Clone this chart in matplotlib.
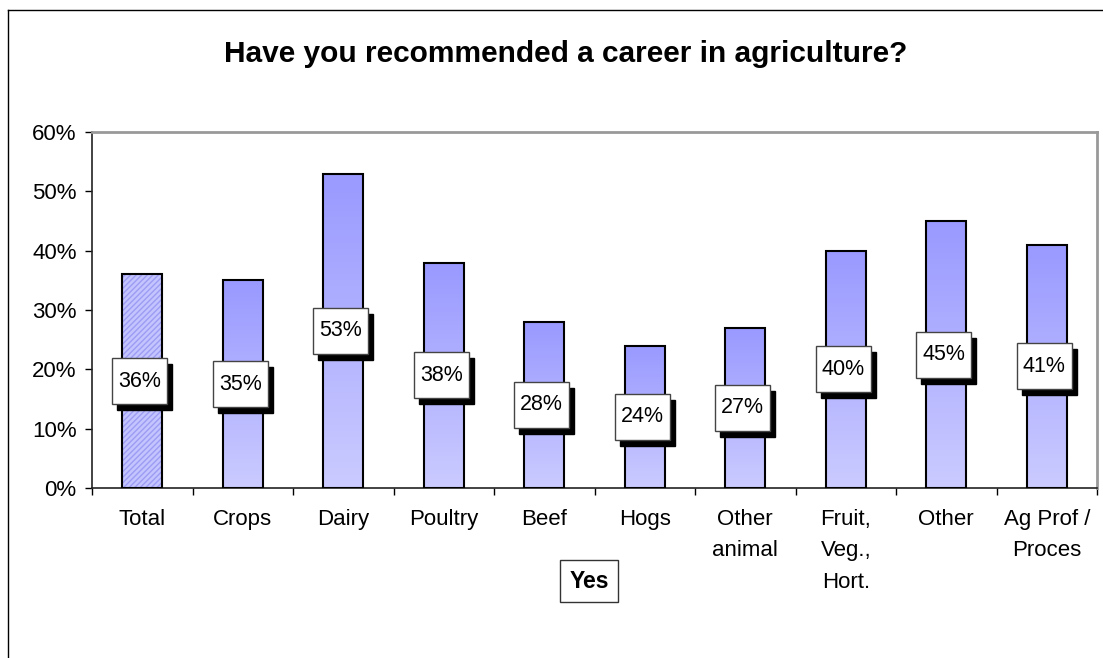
import numpy as np
import matplotlib
matplotlib.use("Agg")
import matplotlib.pyplot as plt
from matplotlib.patches import Rectangle
from matplotlib.colors import LinearSegmentedColormap
from matplotlib.lines import Line2D

plt.rcParams['font.family'] = ['Liberation Sans', 'DejaVu Sans']

# survey data
categories = ["Total", "Crops", "Dairy", "Poultry", "Beef", "Hogs",
              "Other\nanimal", "Fruit,\nVeg.,\nHort.", "Other", "Ag Prof /\nProces"]
yes_pct = [36, 35, 53, 38, 28, 24, 27, 40, 45, 41]
yticks = [0, 10, 20, 30, 40, 50, 60]
title = "Have you recommended a career in agriculture?"
series_name = "Yes"

W, H = 1103, 658
fig = plt.figure(figsize=(W / 100, H / 100), dpi=100)
ax = fig.add_axes([92 / W, 1 - 488 / H, (1097 - 92) / W, (488 - 132) / H])

x = np.arange(len(categories))
width = 0.4

# vertical gradient, light at bottom, dark at top
grad_cmap = LinearSegmentedColormap.from_list("bluegrad", ["#cbcbff", "#9999ff"])
grad = np.linspace(0, 1, 256).reshape(-1, 1)

for i, v in enumerate(yes_pct):
    if i == 0:
        ax.bar(x[i], v, width, color="#c4c4ff", edgecolor="#9c9cf4",
               hatch="//////", linewidth=0, zorder=2)
    else:
        ax.imshow(grad, extent=[x[i] - width / 2, x[i] + width / 2, 0, v],
                  origin="lower", aspect="auto", cmap=grad_cmap, zorder=2)
    ax.bar(x[i], v, width, fill=False, edgecolor="black", linewidth=1.5, zorder=3)

ax.set_xlim(-0.5, len(categories) - 0.5)
ax.set_ylim(0, 60)

# value labels: white box with black drop shadow at mid-height of each bar
fig.canvas.draw()
px_x = ax.transData.transform((1, 0))[0] - ax.transData.transform((0, 0))[0]
px_y = ax.transData.transform((0, 10))[1] - ax.transData.transform((0, 0))[1]
bw, bh = 55 / px_x, 46 / px_y * 10
sx, sy = 5 / px_x, 6 / px_y * 10
dx = -2.5 / px_x
for i, v in enumerate(yes_pct):
    cx, cy = x[i] + dx, v / 2
    ax.add_patch(Rectangle((cx - bw / 2 + sx, cy - bh / 2 - sy), bw, bh,
                           facecolor="black", edgecolor="black", zorder=4))
    ax.add_patch(Rectangle((cx - bw / 2, cy - bh / 2), bw, bh,
                           facecolor="white", edgecolor="#444444", linewidth=1, zorder=5))
    ax.text(cx, cy, f"{v}%", ha="center", va="center", fontsize=15.5, zorder=6)

ax.set_yticks(yticks)
ax.set_yticklabels([f"{t}%" for t in yticks], fontsize=16)
ax.set_xticks(x)
ax.set_xticklabels(categories, fontsize=16, linespacing=1.65, va="top")
ax.set_xticks(np.arange(len(categories) + 1) - 0.5, minor=True)
ax.tick_params(axis="x", which="major", length=0, pad=15)
ax.tick_params(axis="x", which="minor", length=5, width=1, direction="out")
ax.tick_params(axis="y", length=5, width=1, direction="out", pad=6)

for s in ["left", "bottom"]:
    ax.spines[s].set_color("#222222")
    ax.spines[s].set_linewidth(1.2)
for s in ["top", "right"]:
    ax.spines[s].set_color("#999999")
    ax.spines[s].set_linewidth(2)

fig.text(566 / W, 1 - 62 / H, title, ha="center", va="baseline",
         fontsize=21.5, fontweight="bold")

# series name box
fig.text(589 / W, 1 - 581 / H, series_name, ha="center", va="center",
         fontsize=16.5, fontweight="bold",
         bbox=dict(boxstyle="square,pad=0.4", facecolor="white",
                   edgecolor="#333333", linewidth=1))

# outer chart border
fig.add_artist(Line2D([8 / W, 8 / W], [0, 1 - 10 / H], color="black", lw=1,
                      transform=fig.transFigure))
fig.add_artist(Line2D([8 / W, 1], [1 - 10 / H, 1 - 10 / H], color="black", lw=1,
                      transform=fig.transFigure))

fig.savefig("out.png", dpi=100)
